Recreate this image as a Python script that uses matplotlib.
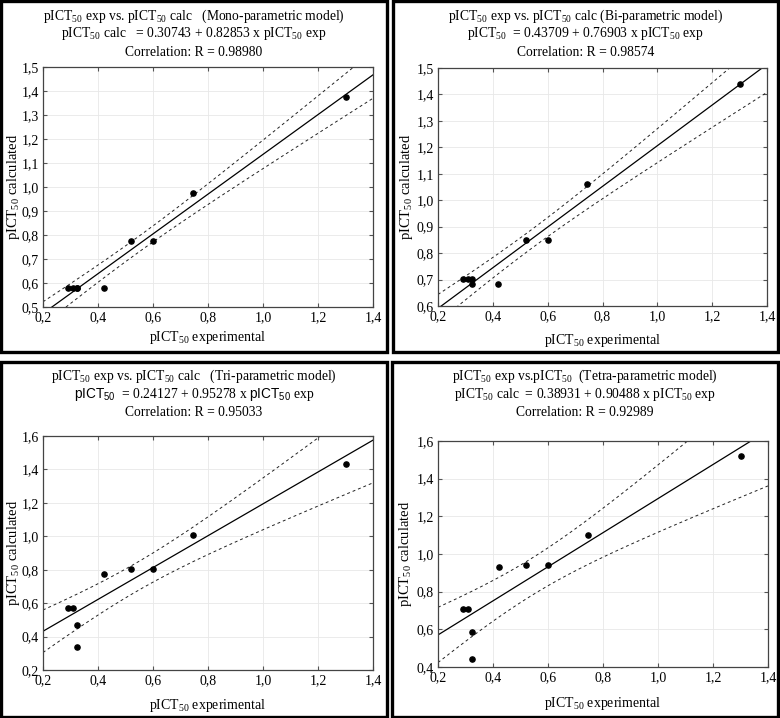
import numpy as np
import matplotlib
matplotlib.use("Agg")
import matplotlib.pyplot as plt
from matplotlib.patches import Rectangle
from matplotlib.ticker import FuncFormatter, MultipleLocator

plt.rcParams['font.family'] = ['Liberation Serif', 'DejaVu Serif']
plt.rcParams['mathtext.fontset'] = 'custom'
plt.rcParams['mathtext.rm'] = 'Liberation Serif'
plt.rcParams['mathtext.it'] = 'Liberation Serif:italic'
plt.rcParams['mathtext.sf'] = 'Liberation Sans'

# data
exp_mono = [0.29, 0.31, 0.325, 0.325, 0.42, 0.52, 0.60, 0.745, 1.30]
calc_mono = [0.58, 0.578, 0.578, 0.578, 0.578, 0.775, 0.775, 0.975, 1.375]

exp_bi = [0.29, 0.31, 0.325, 0.325, 0.42, 0.52, 0.60, 0.745, 1.30]
calc_bi = [0.703, 0.703, 0.703, 0.682, 0.682, 0.848, 0.848, 1.06, 1.438]

exp_tri = [0.29, 0.31, 0.325, 0.325, 0.42, 0.52, 0.60, 0.745, 1.30]
calc_tri = [0.57, 0.57, 0.47, 0.34, 0.775, 0.805, 0.805, 1.005, 1.435]

exp_tetra = [0.29, 0.31, 0.325, 0.325, 0.42, 0.52, 0.60, 0.745, 1.30]
calc_tetra = [0.71, 0.71, 0.585, 0.44, 0.93, 0.94, 0.94, 1.10, 1.52]

intercepts = [0.30743, 0.43709, 0.24127, 0.38931]
slopes = [0.82853, 0.76903, 0.95278, 0.90488]

titles = [
    "pICT$_{50}$ exp vs. pICT$_{50}$ calc   (Mono-parametric model)",
    "pICT$_{50}$ exp vs. pICT$_{50}$ calc (Bi-parametric model)",
    "pICT$_{50}$ exp vs. pICT$_{50}$ calc   (Tri-parametric model)",
    "pICT$_{50}$ exp vs.pICT$_{50}$  (Tetra-parametric model)",
]
equations = [
    "pICT$_{50}$ calc   = 0.30743 + 0.82853 x pICT$_{50}$ exp",
    "pICT$_{50}$  = 0.43709 + 0.76903 x pICT$_{50}$ exp",
    r"$\mathsf{pICT_{50}}$  = 0.24127 + 0.95278 x $\mathsf{pICT_{50}}$ exp",
    "pICT$_{50}$ calc  = 0.38931 + 0.90488 x pICT$_{50}$ exp",
]
correlations = [
    "Correlation: R = 0.98980",
    "Correlation: R = 0.98574",
    "Correlation: R = 0.95033",
    "Correlation: R = 0.92989",
]
ylims = [(0.5, 1.5), (0.6, 1.5), (0.2, 1.6), (0.4, 1.6)]
ysteps = [0.1, 0.1, 0.2, 0.2]

W, H = 780, 718

def fx(x):
    return x / W

def fy(y):
    return 1 - y / H

# panel boxes (pixels) and axes rectangles (pixels: left, top, right, bottom)
boxes = [(1, 1, 387, 352), (393, 1, 778, 352), (1, 362, 387, 717), (392, 362, 778, 717)]
axes_px = [(43, 67, 373, 307), (438, 68, 767, 306), (43, 436, 373, 670), (438, 441, 768, 667)]
xlabel_y = [337, 341, 705, 704]

T975 = {6: 2.4469, 7: 2.3646}

fig = plt.figure(figsize=(7.8, 7.18), dpi=100)

comma = FuncFormatter(lambda v, p: ("%.1f" % v).replace(".", ","))

series = [(exp_mono, calc_mono), (exp_bi, calc_bi), (exp_tri, calc_tri), (exp_tetra, calc_tetra)]

for i, (xs, ys) in enumerate(series):
    bx0, by0, bx1, by1 = boxes[i]
    fig.add_artist(Rectangle((fx(bx0), fy(by1)), fx(bx1 - bx0), (by1 - by0) / H,
                             transform=fig.transFigure, fill=False,
                             edgecolor='black', linewidth=2.4))
    l, t, r, b = axes_px[i]
    ax = fig.add_axes([fx(l), fy(b), (r - l) / W, (b - t) / H])

    x = np.array(xs)
    y = np.array(ys)
    a, k = intercepts[i], slopes[i]
    n = len(x)
    resid = y - (a + k * x)
    s = np.sqrt(np.sum(resid ** 2) / (n - 2))
    sxx = np.sum((x - x.mean()) ** 2)
    xx = np.linspace(0.2, 1.4, 200)
    fit = a + k * xx
    half = T975[n - 2] * s * np.sqrt(1.0 / n + (xx - x.mean()) ** 2 / sxx)

    ax.plot(xx, fit, color='black', lw=0.9)
    ax.plot(xx, fit + half, color='#222222', lw=0.7, ls=(0, (3, 3)))
    ax.plot(xx, fit - half, color='#222222', lw=0.7, ls=(0, (3, 3)))
    ax.scatter(x, y, s=14, color='black', zorder=5)

    ax.set_xlim(0.2, 1.4)
    ax.set_ylim(*ylims[i])
    ax.xaxis.set_major_locator(MultipleLocator(0.2))
    ax.yaxis.set_major_locator(MultipleLocator(ysteps[i]))
    ax.xaxis.set_major_formatter(comma)
    ax.yaxis.set_major_formatter(comma)
    ax.tick_params(direction='in', length=3, width=0.8, color='#555555',
                   top=True, right=True, labelsize=10, pad=3)
    ax.grid(True, color='#e8e8e8', lw=0.6)
    ax.set_axisbelow(True)
    for sp in ax.spines.values():
        sp.set_color('#444444')
        sp.set_linewidth(0.9)

    cx = fx((bx0 + bx1) / 2)
    ty = [16, 34, 52] if i < 2 else [16 + 360, 34 + 360, 52 + 360]
    fig.text(cx, fy(ty[0]), titles[i], ha='center', va='center', fontsize=9.8)
    fig.text(cx, fy(ty[1]), equations[i], ha='center', va='center', fontsize=9.8)
    fig.text(cx, fy(ty[2]), correlations[i], ha='center', va='center', fontsize=9.8)

    fig.text(fx((l + r) / 2), fy(xlabel_y[i]), "pICT$_{50}$ experimental",
             ha='center', va='center', fontsize=10)
    fig.text(fx(bx0 + 13), fy((t + b) / 2), "pICT$_{50}$ calculated",
             ha='center', va='center', rotation=90, fontsize=10.5)

fig.savefig("out.png", dpi=100)
